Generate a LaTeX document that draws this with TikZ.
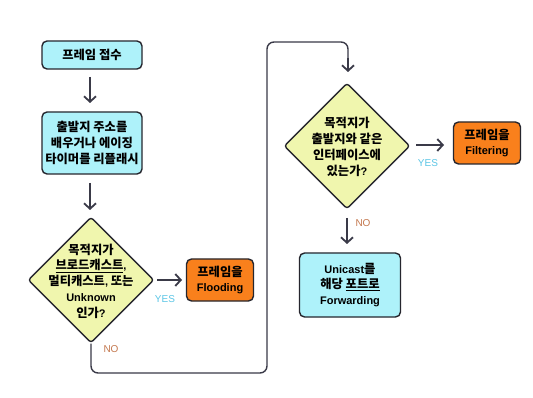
\documentclass[tikz,border=0pt]{standalone}
\usepackage{fontspec}
\setmainfont{Noto Sans CJK KR}
\newfontfamily\latin{Liberation Sans}
\newcommand{\lt}[1]{{\fontsize{11}{15.5}\latin\bfseries #1}}
\usetikzlibrary{shapes.geometric,arrows.meta}
\definecolor{boxcyan}{HTML}{AEF2FA}
\definecolor{diayel}{HTML}{F0F6AE}
\definecolor{boxorg}{HTML}{F9801C}
\definecolor{edgec}{HTML}{26262E}
\definecolor{arrc}{HTML}{3A3A48}
\definecolor{yesc}{HTML}{5CC6E6}
\definecolor{noc}{HTML}{C4784E}
\begin{document}
\begin{tikzpicture}[x=1pt,y=-1pt,
  every node/.style={font=\fontsize{12.3}{15.8}\selectfont\bfseries},
  procbox/.style={draw=edgec,line width=1.4pt,rounded corners=5pt,fill=boxcyan,align=center,inner sep=0pt},
  orgbox/.style={draw=edgec,line width=1.4pt,rounded corners=5pt,fill=boxorg,align=center,inner sep=0pt,minimum width=67pt,minimum height=42pt},
  decbox/.style={draw=edgec,line width=1.4pt,rounded corners=3pt,fill=diayel,shape=diamond,inner sep=0pt,minimum width=126pt,minimum height=126pt},
  flow/.style={draw=arrc,line width=1.8pt,-{Straight Barb[length=5.5pt,width=12pt,line width=1.8pt]}},
  retline/.style={draw=arrc,line width=1.4pt,rounded corners=7pt},
  yeslab/.style={font=\fontsize{10}{12}\latin,text=yesc},
  nolab/.style={font=\fontsize{10}{12}\latin,text=noc}]
\useasboundingbox (0,0) rectangle (533,398);
\fill[white] (0,0) rectangle (533,398);

\node[procbox,minimum width=100pt,minimum height=28pt] (recv) at (92,55) {프레임 접수};
\node[procbox,minimum width=100pt,minimum height=62pt] (learn) at (92,143) {출발지 주소를\\배우거나 에이징\\타이머를 리플래시};
\node[decbox] (d1) at (91,280) {};
\node[align=center] (d1t) at (91,281) {목적지가\\\underline{브로드캐스트}\lt{,}\\멀티캐스트\lt{,} 또는\\\lt{Unknown}\\인가\lt{?}};
\node[orgbox] (flood) at (220,280) {프레임을\\\lt{Flooding}};

\node[decbox] (d2) at (347,146) {};
\node[align=center] (d2t) at (347,147) {목적지가\\출발지와 같은\\인터페이스에\\있는가\lt{?}};
\node[orgbox] (filt) at (487,143) {프레임을\\\lt{Filtering}};
\node[procbox,minimum width=101pt,minimum height=64pt] (uni) at (350,285) {\lt{Unicast}를\\해당 \underline{포트로}\\\lt{Forwarding}};

\node[yeslab] (yes1) at (165,299) {YES};
\node[nolab] (no1) at (111,349) {NO};
\node[yeslab] (yes2) at (428,163) {YES};
\node[nolab] (no2) at (363,223) {NO};

\coordinate (a1s) at (90,77);
\coordinate (a1e) at (90,103);
\coordinate (a2s) at (90,183);
\coordinate (a2e) at (90,210);
\coordinate (a3s) at (157,280);
\coordinate (a3e) at (182,280);
\coordinate (a4s) at (416,145);
\coordinate (a4e) at (444,145);
\coordinate (a5s) at (347,218);
\coordinate (a5e) at (347,244);

\path[flow] (a1s) -- (a1e);
\path[flow] (a2s) -- (a2e);
\path[flow] (a3s) -- (a3e);
\path[flow] (a4s) -- (a4e);
\path[flow] (a5s) -- (a5e);

\coordinate (r1) at (91,373);
\coordinate (r2) at (267,373);
\coordinate (r3) at (267,42);
\coordinate (r4) at (348,42);
\coordinate (r5) at (348,72);
\path[retline] (d1.south) -- (r1) -- (r2) -- (r3) -- (r4) -- (348,60);
\path[flow] (348,58) -- (r5);
\end{tikzpicture}
\end{document}
